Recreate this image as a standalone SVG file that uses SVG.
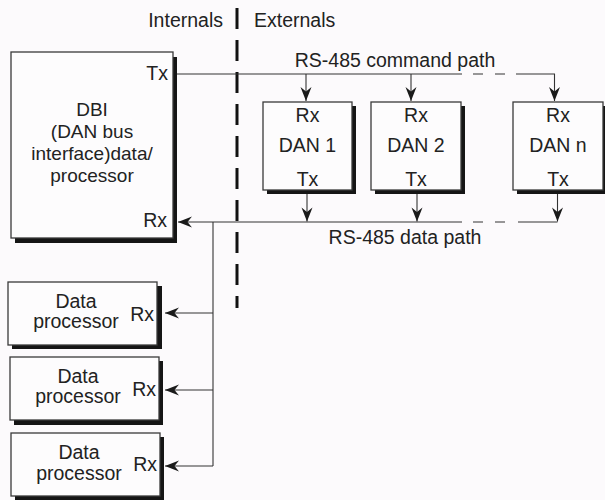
<svg xmlns="http://www.w3.org/2000/svg" width="605" height="500" viewBox="0 0 605 500">
  <defs>
    <style>
      .bg { fill: #fcfafc; }
      .shadow { fill: #151515; }
      .box { fill: #fdfcfd; stroke: #3a3a3a; stroke-width: 1.3; }
      .txt { font-family: "Liberation Sans", Arial, sans-serif; font-size: 19.5px; fill: #222; }
      .dbi { font-size: 19px; }
      .mid { text-anchor: middle; }
      .end { text-anchor: end; }
      .wire { fill: none; stroke: #333; stroke-width: 1.1; }
      .divider { fill: none; stroke: #111; stroke-width: 3; stroke-dasharray: 21 11; }
    </style>
    <marker id="arrow" markerUnits="userSpaceOnUse" markerWidth="16" markerHeight="12" viewBox="-15 -6 16 12" refX="0" refY="0" orient="auto">
      <path d="M0,0 L-14,-5.5 L-9.5,0 L-14,5.5 Z" fill="#1a1a1a"/>
    </marker>
  </defs>

  <rect class="bg" x="0" y="0" width="605" height="500"/>

  <!-- Internal / external boundary -->
  <g id="boundary">
    <line class="divider" x1="237" y1="8" x2="237" y2="308"/>
    <text class="txt end" x="223" y="27">Internals</text>
    <text class="txt" x="254" y="27">Externals</text>
  </g>

  <!-- DAN bus interface -->
  <g id="dbi">
    <rect class="shadow" x="15" y="57" width="162" height="186"/>
    <rect class="box" x="11" y="52" width="162" height="186"/>
    <text class="txt end" x="168" y="80">Tx</text>
    <text class="txt dbi mid" x="92" y="116"><tspan x="92">DBI</tspan><tspan x="92" dy="22">(DAN bus</tspan><tspan x="92" dy="22">interface)data/</tspan><tspan x="92" dy="22">processor</tspan></text>
    <text class="txt end" x="167" y="227">Rx</text>
  </g>

  <g id="dan1">
    <rect class="shadow" x="267" y="106" width="89" height="88"/>
    <rect class="box" x="263" y="102" width="89" height="88"/>
    <text class="txt mid" x="307.5" y="122">Rx</text>
    <text class="txt mid" x="307.5" y="152">DAN 1</text>
    <text class="txt mid" x="307.5" y="186">Tx</text>
  </g>

  <g id="dan2">
    <rect class="shadow" x="375" y="106" width="90" height="88"/>
    <rect class="box" x="371" y="102" width="90" height="88"/>
    <text class="txt mid" x="416" y="122">Rx</text>
    <text class="txt mid" x="416" y="152">DAN 2</text>
    <text class="txt mid" x="416" y="186">Tx</text>
  </g>

  <g id="dann">
    <rect class="shadow" x="517" y="106" width="90" height="88"/>
    <rect class="box" x="513" y="102" width="90" height="88"/>
    <text class="txt mid" x="558" y="122">Rx</text>
    <text class="txt mid" x="558" y="152">DAN n</text>
    <text class="txt mid" x="558" y="186">Tx</text>
  </g>

  <g id="dp1">
    <rect class="shadow" x="12" y="286" width="150" height="63"/>
    <rect class="box" x="8" y="282" width="149" height="63"/>
    <text class="txt mid" x="76" y="308"><tspan x="76">Data</tspan><tspan x="76" dy="20">processor</tspan></text>
    <text class="txt end" x="154" y="321">Rx</text>
  </g>

  <g id="dp2">
    <rect class="shadow" x="14" y="361" width="149" height="64"/>
    <rect class="box" x="10" y="357" width="149" height="63"/>
    <text class="txt mid" x="78" y="383"><tspan x="78">Data</tspan><tspan x="78" dy="20">processor</tspan></text>
    <text class="txt end" x="156" y="396">Rx</text>
  </g>

  <g id="dp3">
    <rect class="shadow" x="15" y="437" width="149" height="68"/>
    <rect class="box" x="11" y="433" width="149" height="63"/>
    <text class="txt mid" x="79" y="459"><tspan x="79">Data</tspan><tspan x="79" dy="21">processor</tspan></text>
    <text class="txt end" x="157" y="471">Rx</text>
  </g>

  <!-- Bus labels -->
  <g id="bus-labels">
    <text class="txt mid" x="395" y="67">RS-485 command path</text>
    <text class="txt mid" x="405" y="244">RS-485 data path</text>
  </g>

  <g id="connectors">
    <!-- command path -->
    <path class="wire" d="M177,74 H462 M473,74 H483 M495,74 H505"/>
    <path class="wire" d="M516,74 H554.5 V101" marker-end="url(#arrow)"/>
    <path class="wire" d="M306,74 V101" marker-end="url(#arrow)"/>
    <path class="wire" d="M411,74 V101" marker-end="url(#arrow)"/>
    <!-- data path -->
    <path class="wire" d="M307,194 V221.5" marker-end="url(#arrow)"/>
    <path class="wire" d="M417,194 V221.5" marker-end="url(#arrow)"/>
    <path class="wire" d="M557.5,194 V221.5" marker-end="url(#arrow)"/>
    <path class="wire" d="M557.5,222 H518 M505,222 H495 M483,222 H473"/>
    <path class="wire" d="M462,222 H178" marker-end="url(#arrow)"/>
    <!-- distribution to data processors -->
    <path class="wire" d="M213,222 V466"/>
    <path class="wire" d="M213,313 H165" marker-end="url(#arrow)"/>
    <path class="wire" d="M213,390 H165" marker-end="url(#arrow)"/>
    <path class="wire" d="M213,466 H165" marker-end="url(#arrow)"/>
  </g>
</svg>
